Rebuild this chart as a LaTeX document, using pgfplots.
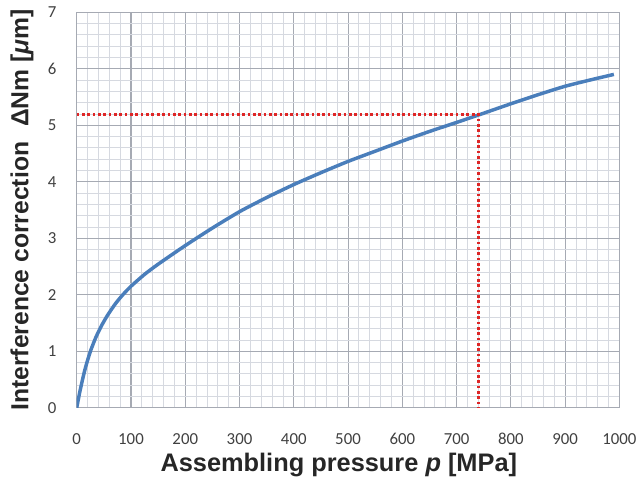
\documentclass[border=0pt]{standalone}
\usepackage{fontspec}
\setmainfont{Liberation Sans}
\newfontfamily\carlito{Carlito}
\usepackage{pgfplots}
\pgfplotsset{compat=1.18}
\usetikzlibrary{calc}

\definecolor{gridmaj}{RGB}{166,170,179}
\definecolor{gridmin}{RGB}{214,217,224}
\definecolor{curve}{RGB}{74,126,187}
\definecolor{redline}{RGB}{222,38,38}
\definecolor{tickc}{RGB}{64,64,64}
\definecolor{labc}{RGB}{38,38,38}

\begin{document}
\begin{tikzpicture}
\begin{axis}[
    scale only axis,
    width=406.5pt, height=296.25pt,
    xmin=0, xmax=1000, ymin=0, ymax=7,
    xtick={0,100,...,1000}, ytick={0,1,...,7},
    minor xtick={0,20,...,1000}, minor ytick={0,0.2,...,7},
    grid=both,
    major grid style={draw=gridmaj, line width=0.8pt},
    minor grid style={draw=gridmin, line width=0.6pt},
    axis line style={draw=gridmaj, line width=0.8pt},
    major tick length=0pt, minor tick length=0pt,
    scaled ticks=false,
    /pgf/number format/1000 sep={},
    /pgf/number format/assume math mode=true,
    ticklabel style={font=\carlito\fontsize{12.6}{14}\selectfont, text=tickc, inner sep=0pt},
    xticklabel style={yshift=-19pt},
    yticklabel style={anchor=east, xshift=-15pt},
    every axis x label/.style={at={(axis description cs:0.483,-0.1615)}, anchor=base, inner sep=0pt,
        font=\bfseries\fontsize{19}{22}\selectfont, text=labc},
    every axis y label/.style={at={(axis description cs:-0.101,0.5)}, anchor=center, rotate=90, inner sep=0pt,
        font=\bfseries\fontsize{18.5}{21}\selectfont, text=labc},
    xlabel={Assembling pressure \textit{p} [MPa]},
    ylabel={Interference correction\hspace{0.6em}ΔNm [\textit{μ}m]},
]
\addplot[curve, line width=2.6pt, smooth, tension=0.4] coordinates {
    (0,0) (5,0.25) (10,0.47) (15,0.67) (20,0.84) (26,1.02) (35,1.24)
    (45,1.44) (57,1.64) (72,1.85) (85,2.0) (100,2.15) (125,2.36)
    (150,2.54) (200,2.87) (250,3.18) (300,3.47) (350,3.72)
    (400,3.95) (450,4.16) (500,4.36) (550,4.54) (600,4.72) (650,4.89)
    (700,5.05) (740,5.18) (800,5.38) (850,5.54) (900,5.69) (950,5.81)
    (990,5.90)
};
\addplot[redline, line width=2pt, dash pattern=on 2pt off 2pt] coordinates {
    (0,5.19) (740,5.19) (740,0)
};
\coordinate (ll) at (rel axis cs:0,0);
\coordinate (ur) at (rel axis cs:1,1);
\end{axis}
\pgfresetboundingbox
\path ($(ll)+(-57.5pt,-59.5pt)$) rectangle ($(ur)+(14pt,9.2pt)$);
\end{tikzpicture}
\end{document}
